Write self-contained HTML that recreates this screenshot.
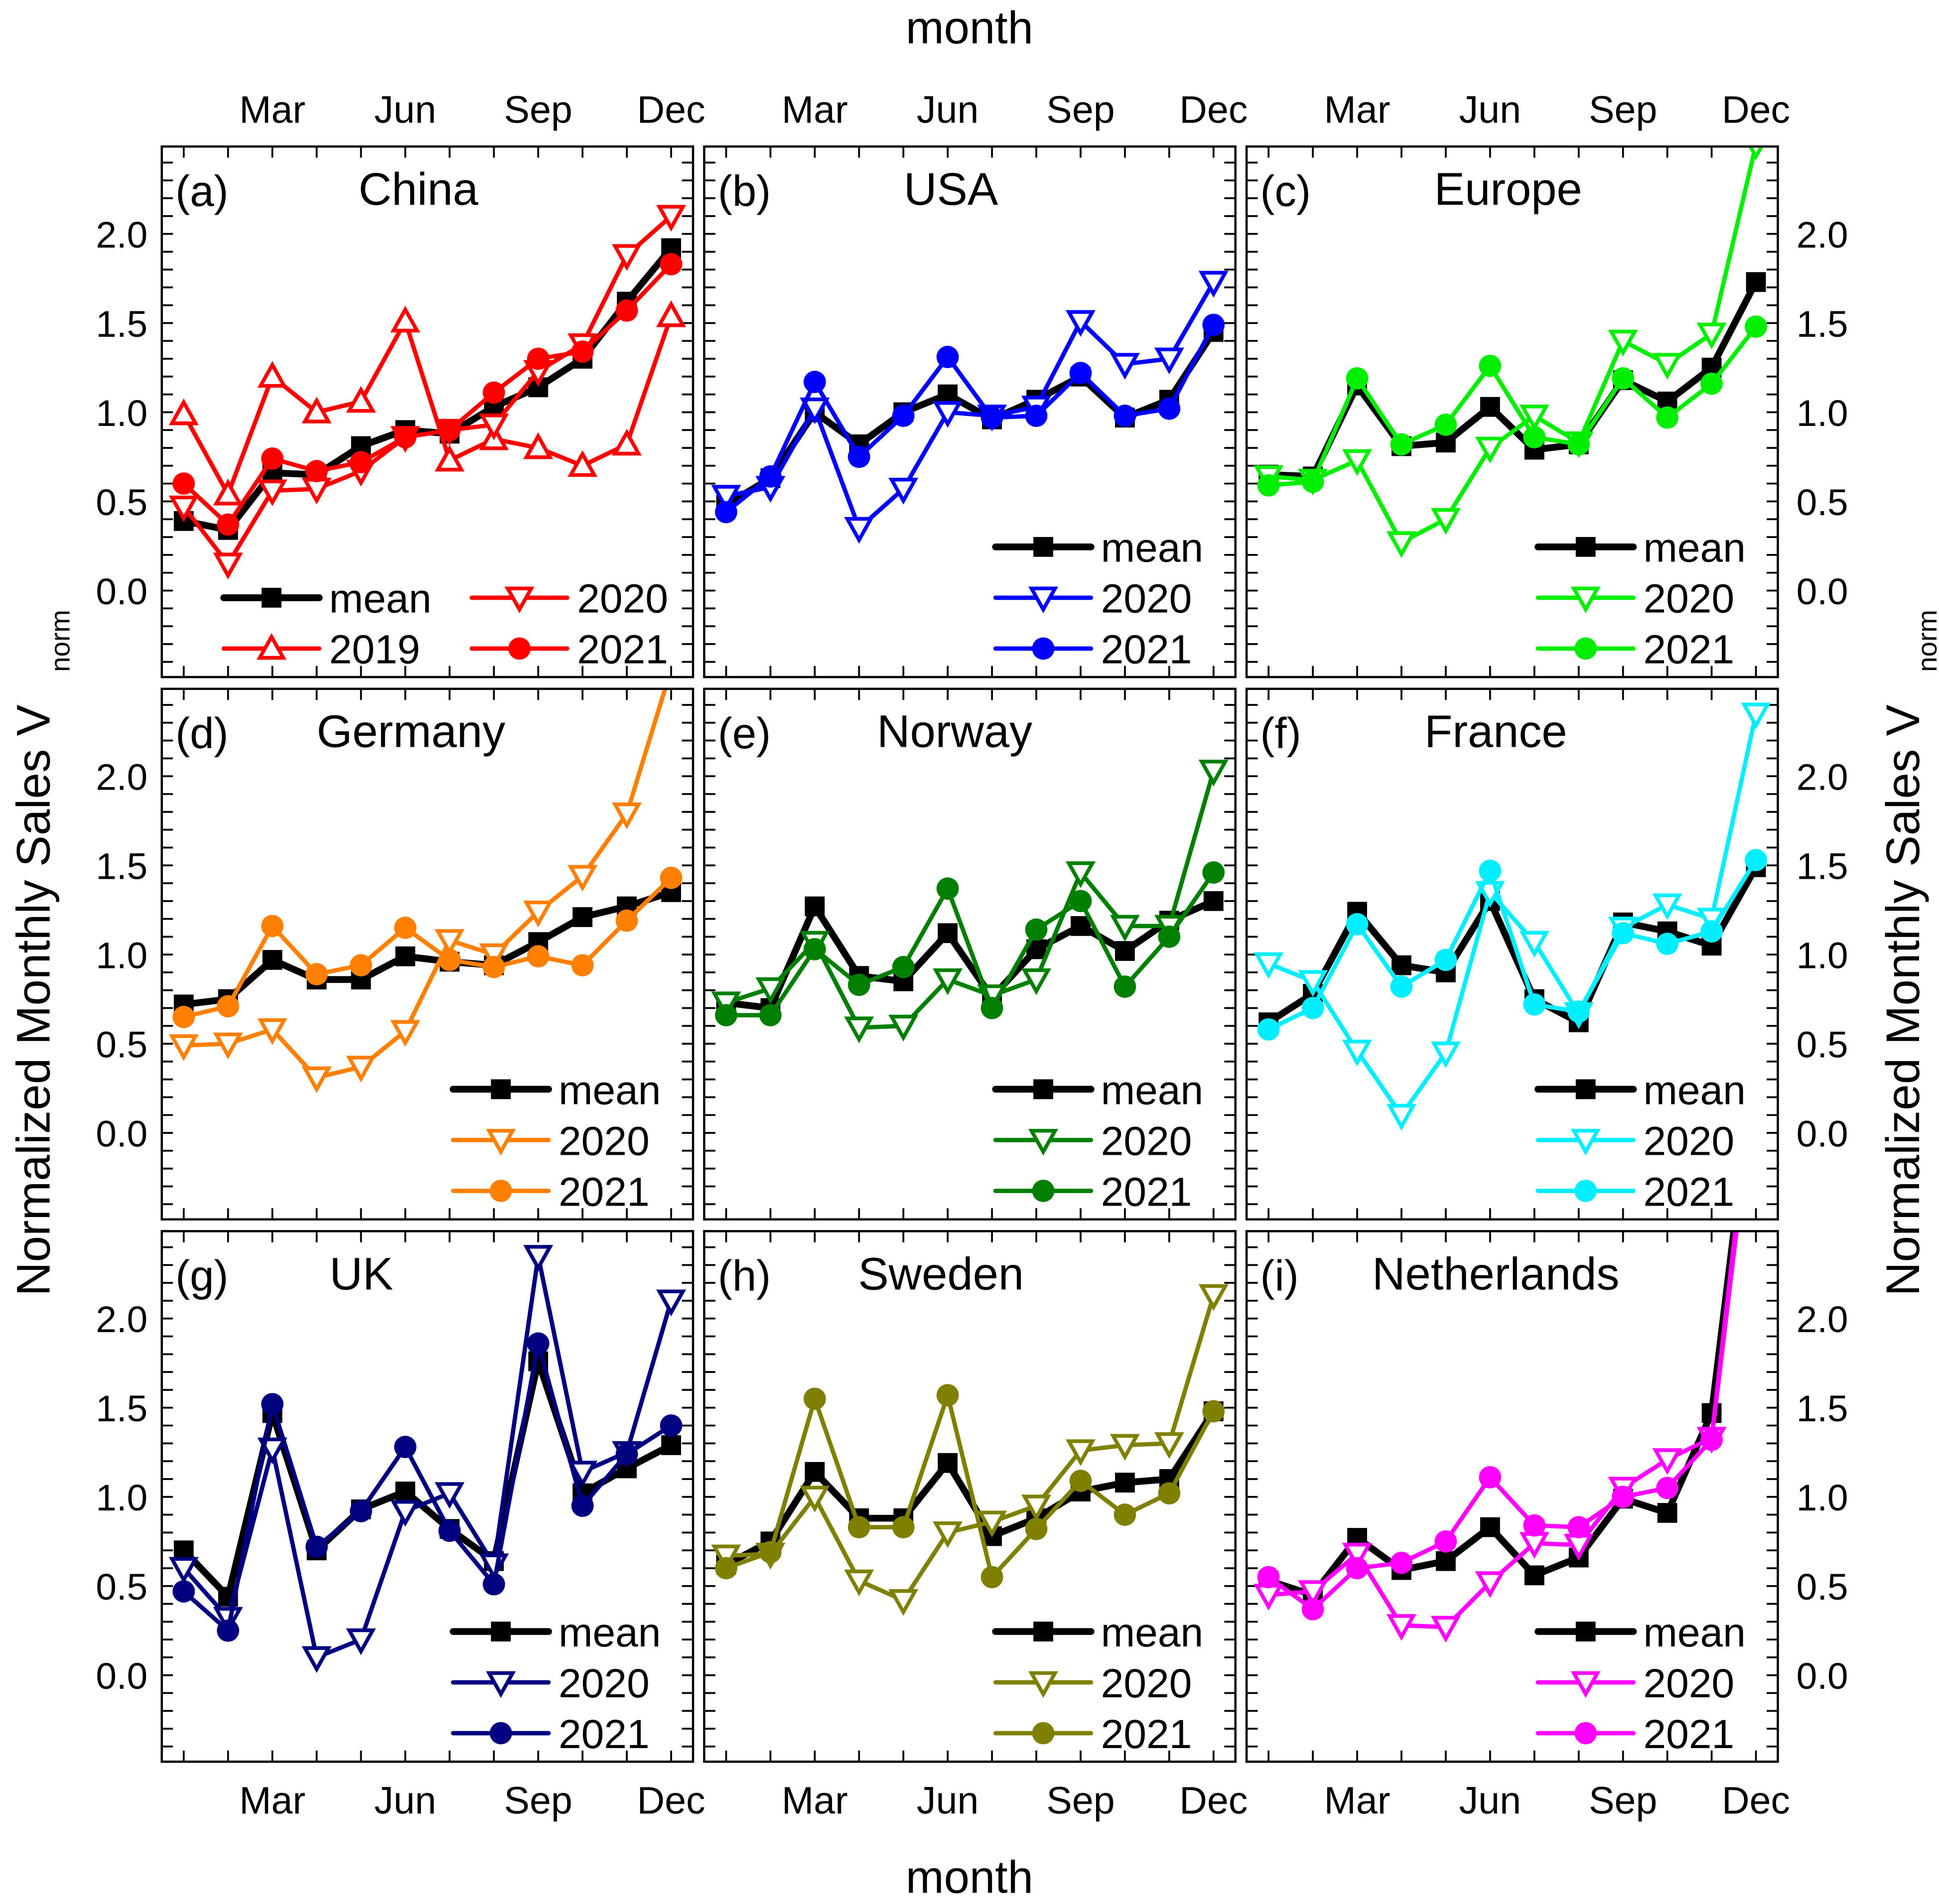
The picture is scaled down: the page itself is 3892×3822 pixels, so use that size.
<!DOCTYPE html>
<html><head><meta charset="utf-8"><style>
html,body{margin:0;padding:0;background:#fff;}
svg{display:block;font-family:"Liberation Sans",Arial,sans-serif;}
</style></head><body>
<svg id="chart" xmlns="http://www.w3.org/2000/svg" width="3892" height="3822" viewBox="0 0 1564 1536" preserveAspectRatio="none">
<rect x="0" y="0" width="1564" height="1536" fill="#fff"/>
<text x="782" y="35" font-size="37" text-anchor="middle">month</text>
<text x="782" y="1527" font-size="37" text-anchor="middle">month</text>
<text transform="translate(40,807) rotate(-90)" font-size="38" text-anchor="middle">Normalized Monthly Sales V</text>
<text transform="translate(56,517) rotate(-90)" font-size="22" text-anchor="middle">norm</text>
<text transform="translate(1548,807) rotate(-90)" font-size="38" text-anchor="middle">Normalized Monthly Sales V</text>
<text transform="translate(1562,517) rotate(-90)" font-size="22" text-anchor="middle">norm</text>
<g id="panels"></g>
</svg>
<script>
const months = [1,2,3,4,5,6,7,8,9,10,11,12];
const xTickMonths = [3,6,9,12];
const xTickLabels = ["Mar","Jun","Sep","Dec"];
const yTickValues = [0.0,0.5,1.0,1.5,2.0];
const yTickLabels = ["0.0","0.5","1.0","1.5","2.0"];
const panelNames = ["China","USA","Europe","Germany","Norway","France","UK","Sweden","Netherlands"];
const panelLetters = ["(a)","(b)","(c)","(d)","(e)","(f)","(g)","(h)","(i)"];
const panelColors = ["#ff0000","#0000ff","#00ee00","#ff8000","#007f00","#00eeff","#000080","#808000","#ff00ff"];
const meanSeries = [
 [0.39,0.34,0.66,0.65,0.81,0.90,0.88,1.03,1.14,1.30,1.62,1.92],
 [0.48,0.63,1.00,0.82,1.00,1.10,0.96,1.07,1.20,0.97,1.07,1.45],
 [0.65,0.64,1.15,0.81,0.83,1.03,0.79,0.82,1.18,1.06,1.25,1.73],
 [0.72,0.75,0.97,0.86,0.86,0.99,0.96,0.94,1.07,1.21,1.27,1.35],
 [0.73,0.70,1.27,0.88,0.85,1.12,0.76,1.03,1.16,1.02,1.19,1.30],
 [0.62,0.78,1.24,0.94,0.90,1.30,0.75,0.62,1.18,1.13,1.05,1.49],
 [0.70,0.44,1.47,0.70,0.93,1.03,0.82,0.64,1.76,1.02,1.16,1.29],
 [0.62,0.75,1.14,0.88,0.88,1.19,0.78,0.88,1.03,1.08,1.10,1.48],
 [0.53,0.45,0.77,0.59,0.64,0.83,0.56,0.66,0.99,0.91,1.47,3.50]
];
const series2019China = [0.99,0.54,1.20,1.00,1.06,1.51,0.73,0.85,0.80,0.70,0.82,1.54];
const series2020 = [
 [0.47,0.15,0.56,0.57,0.67,0.86,0.90,0.93,1.23,1.38,1.88,2.10],
 [0.53,0.58,1.02,0.35,0.57,1.00,0.98,1.03,1.51,1.27,1.30,1.73],
 [0.64,0.62,0.73,0.27,0.40,0.80,0.98,0.83,1.40,1.27,1.44,2.50],
 [0.49,0.50,0.58,0.31,0.37,0.57,1.08,1.00,1.24,1.44,1.79,2.60],
 [0.73,0.81,1.07,0.59,0.60,0.86,0.77,0.86,1.46,1.16,1.16,2.03],
 [0.95,0.85,0.46,0.10,0.45,1.35,1.07,0.67,1.15,1.28,1.20,2.35],
 [0.60,0.32,1.27,0.10,0.20,0.92,1.02,0.62,2.35,1.14,1.25,2.10],
 [0.67,0.68,1.00,0.53,0.42,0.80,0.86,0.95,1.26,1.29,1.30,2.13],
 [0.45,0.47,0.68,0.28,0.27,0.52,0.74,0.73,1.05,1.21,1.33,3.50]
];
const series2021 = [
 [0.60,0.37,0.74,0.67,0.72,0.86,0.90,1.11,1.30,1.34,1.57,1.83],
 [0.44,0.64,1.17,0.75,0.98,1.31,0.97,0.98,1.22,0.98,1.02,1.49],
 [0.59,0.61,1.19,0.82,0.93,1.26,0.86,0.82,1.19,0.97,1.16,1.48],
 [0.65,0.71,1.16,0.89,0.94,1.15,0.97,0.93,0.99,0.94,1.19,1.43],
 [0.66,0.66,1.03,0.83,0.93,1.37,0.70,1.14,1.30,0.82,1.10,1.46],
 [0.58,0.70,1.17,0.82,0.97,1.47,0.72,0.68,1.12,1.06,1.13,1.53],
 [0.47,0.25,1.52,0.72,0.92,1.28,0.81,0.51,1.86,0.95,1.24,1.40],
 [0.60,0.69,1.55,0.83,0.83,1.57,0.55,0.82,1.09,0.90,1.02,1.48],
 [0.55,0.37,0.60,0.63,0.75,1.11,0.84,0.83,1.00,1.05,1.32,3.40]
];
const titleX = [207,199,211,201,202,201,161,191,201];

const NS = "http://www.w3.org/2000/svg";
const root = document.getElementById("panels");
const PW = 428.5, PH = 428, STEP = 437.5, L0 = 130.5, T0 = 118.2;
const YMIN = -0.485, YMAX = 2.49;
function mk(tag, attrs, parent){const e=document.createElementNS(NS,tag);for(const k in attrs)e.setAttribute(k,attrs[k]);(parent||root).appendChild(e);return e;}
function xScale(c,m){return L0+STEP*c+17.7+35.74*(m-1);}
function yScale(r,v){return T0+STEP*r+PH*(YMAX-v)/(YMAX-YMIN);}

function marker(g,type,x,y,color){
  let e;
  if(type==="square"){e=mk("rect",{x:x-8,y:y-8,width:16,height:16,fill:"#000"},g);}
  else if(type==="circle"){e=mk("circle",{cx:x,cy:y,r:9,fill:color},g);}
  else if(type==="down"){e=mk("polygon",{points:`${x-9.5},${y-7.5} ${x+9.5},${y-7.5} ${x},${y+9.5}`,fill:"#fff",stroke:color,"stroke-width":3},g);}
  else {e=mk("polygon",{points:`${x-9.5},${y+7.5} ${x+9.5},${y+7.5} ${x},${y-9.5}`,fill:"#fff",stroke:color,"stroke-width":3},g);}
  return e;
}

for(let p=0;p<9;p++){
  const c=p%3, r=Math.floor(p/3);
  const px=L0+STEP*c, py=T0+STEP*r;
  const col=panelColors[p];
  const g=mk("g",{});
  
  
  const cp=mk("clipPath",{id:"clip"+p},g);
  mk("rect",{x:px,y:py,width:PW,height:PH},cp);
  const tg=mk("g",{stroke:"#000","stroke-width":1.5},g);
  
  
  for(const m of months){
    const x=xScale(c,m);
    mk("line",{x1:x,y1:py,x2:x,y2:py+9},tg);
    mk("line",{x1:x,y1:py+PH,x2:x,y2:py+PH-9},tg);
  }
  for(let k=-4;k<=24;k++){
    const v=k/10;const y=yScale(r,v);
    if(y<py+1||y>py+PH-1)continue;
    mk("line",{x1:px,y1:y,x2:px+9,y2:y},tg);
    mk("line",{x1:px+PW,y1:y,x2:px+PW-9,y2:y},tg);
  }
  const dg=mk("g",{"clip-path":`url(#clip${p})`},g);
  const seriesList=[];
  seriesList.push({data:meanSeries[p],color:"#000",w:5.5,m:"square",name:"mean"});
  if(p===0) seriesList.push({data:series2019China,color:col,w:3.5,m:"up",name:"2019"});
  seriesList.push({data:series2020[p],color:col,w:3.5,m:"down",name:"2020"});
  seriesList.push({data:series2021[p],color:col,w:3.5,m:"circle",name:"2021"});
  for(const s of seriesList){
    const sg=mk("g",{},dg);
    
    
    const pts=s.data.map((v,i)=>xScale(c,months[i])+","+yScale(r,v)).join(" ");
    const pl=mk("polyline",{points:pts,fill:"none",stroke:s.color,"stroke-width":s.w,"stroke-linejoin":"miter"},sg);
    
    
    s.data.forEach((v,i)=>{
      const mkr=marker(sg,s.m,xScale(c,months[i]),yScale(r,v),s.color);
      
      
    });
  }
  const fr=mk("rect",{x:px,y:py,width:PW,height:PH,fill:"none",stroke:"#000","stroke-width":1.8},g);
  
  
  const lt=mk("text",{x:px+11,y:py+48,"font-size":35},g); lt.textContent=panelLetters[p];
  
  
  const tt=mk("text",{x:px+titleX[p],y:py+47,"font-size":37,"text-anchor":"middle"},g); tt.textContent=panelNames[p];
  
  
  const lg=mk("g",{},g);
  
  
  let entries;
  if(p===0){
    entries=[[50,364,seriesList[0]],[250,364,seriesList[2]],[50,405,seriesList[1]],[250,405,seriesList[3]]];
  } else {
    entries=[[235,323,seriesList[0]],[235,364,seriesList[1]],[235,405,seriesList[2]]];
  }
  for(const [ex,ey,s] of entries){
    const eg=mk("g",{},lg);
    
    
    mk("line",{x1:px+ex,y1:py+ey,x2:px+ex+77,y2:py+ey,stroke:s.color,"stroke-width":s.w,"stroke-linecap":"round"},eg);
    marker(eg,s.m,px+ex+38.5,py+ey,s.color);
    const t=mk("text",{x:px+ex+85,y:py+ey+12,"font-size":33},eg); t.textContent=s.name;
  }
  if(r===0){
    xTickMonths.forEach((m,i)=>{const t=mk("text",{x:xScale(c,m),y:99,"font-size":31,"text-anchor":"middle"});t.textContent=xTickLabels[i];
      
      });
  }
  if(r===2){
    xTickMonths.forEach((m,i)=>{const t=mk("text",{x:xScale(c,m),y:1463,"font-size":31,"text-anchor":"middle"});t.textContent=xTickLabels[i];
      
      });
  }
  if(c===0){
    yTickValues.forEach((v,i)=>{const t=mk("text",{x:119,y:yScale(r,v)+11,"font-size":30,"text-anchor":"end"});t.textContent=yTickLabels[i];
      
      });
  }
  if(c===2){
    yTickValues.forEach((v,i)=>{const t=mk("text",{x:1449,y:yScale(r,v)+11,"font-size":30,"text-anchor":"start"});t.textContent=yTickLabels[i];
      
      });
  }
}
</script>
</body></html>
